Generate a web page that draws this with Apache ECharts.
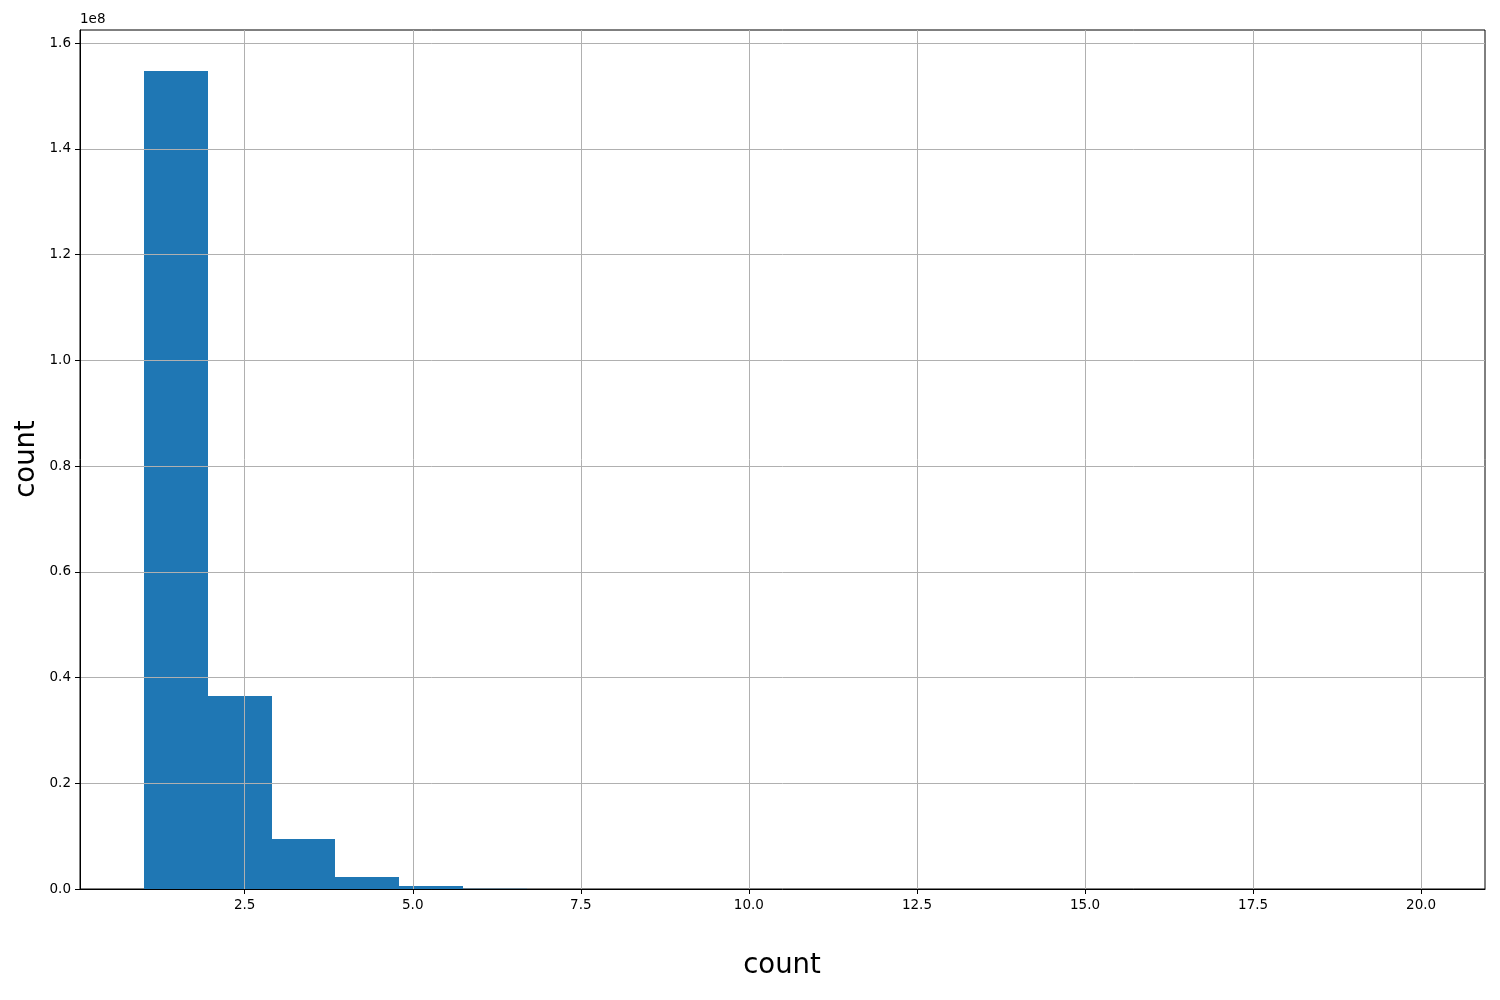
<!DOCTYPE html>
<html>
<head>
<meta charset="utf-8">
<script src="https://cdn.jsdelivr.net/npm/echarts@6/dist/echarts.min.js"></script>
<style>html,body{margin:0;padding:0;background:#fff;}#chart{width:1500px;height:1000px;}</style>
</head>
<body>
<div id="chart"></div>
<script>
// Histogram bins (left edge, right edge) and counts
const binStart = [1.00, 1.95, 2.90, 3.85, 4.80, 5.75, 6.70, 7.65, 8.60, 9.55, 10.50, 11.45, 12.40, 13.35, 14.30, 15.25, 16.20, 17.15, 18.10, 19.05];
const binEnd   = [1.95, 2.90, 3.85, 4.80, 5.75, 6.70, 7.65, 8.60, 9.55, 10.50, 11.45, 12.40, 13.35, 14.30, 15.25, 16.20, 17.15, 18.10, 19.05, 20.00];
const counts   = [154700000, 36500000, 9450000, 2270000, 570000, 60000, 15000, 4000, 1200, 400, 150, 60, 20, 8, 4, 2, 1, 1, 1, 1];
const xTicks = [2.5, 5.0, 7.5, 10.0, 12.5, 15.0, 17.5, 20.0];
const yTicks = [0, 0.2e8, 0.4e8, 0.6e8, 0.8e8, 1.0e8, 1.2e8, 1.4e8, 1.6e8];
const xTitle = 'count';
const yTitle = 'count';

const FONT = 'DejaVu Sans';
const chart = echarts.init(document.getElementById('chart'), null, {renderer: 'canvas'});
const data = binStart.map((s, i) => [s, binEnd[i], counts[i]]);

chart.setOption({
  animation: false,
  backgroundColor: '#fff',
  grid: {left: 80, right: 15, top: 30, bottom: 111, show: true, borderColor: '#000', borderWidth: 1, backgroundColor: 'transparent'},
  xAxis: {
    type: 'value', min: 0.05, max: 20.95, z: 5,
    axisLine: {onZero: false, lineStyle: {color: '#000', width: 1}},
    axisTick: {show: true, length: 5, customValues: xTicks, lineStyle: {color: '#000', width: 1}},
    axisLabel: {customValues: xTicks, color: '#000', fontFamily: FONT, fontSize: 13.5, margin: 9,
      formatter: v => v.toFixed(1)},
    splitLine: {show: false}
  },
  yAxis: {
    type: 'value', min: 0, max: 1.6246e8, z: 5,
    axisLine: {show: true, lineStyle: {color: '#000', width: 1}},
    axisTick: {show: true, length: 5, customValues: yTicks, lineStyle: {color: '#000', width: 1}},
    axisLabel: {customValues: yTicks, color: '#000', fontFamily: FONT, fontSize: 13.5, margin: 9,
      formatter: v => (v / 1e8).toFixed(1)},
    splitLine: {show: false}
  },
  graphic: [
    {type: 'text', left: 80, top: 12, style: {text: '1e8', font: '13.5px "DejaVu Sans"', fill: '#000'}},
    {type: 'text', x: 782, y: 966, style: {text: xTitle, font: '27.5px "DejaVu Sans"', fill: '#000', align: 'center', verticalAlign: 'middle'}},
    {type: 'text', x: 27, y: 459, rotation: Math.PI / 2, style: {text: yTitle, font: '27.5px "DejaVu Sans"', fill: '#000', align: 'center', verticalAlign: 'middle'}}
  ],
  series: [{
    type: 'custom',
    z: 2,
    data: data,
    encode: {x: [0, 1], y: 2},
    renderItem: function (params, api) {
      const p0 = api.coord([api.value(0), 0]);
      const p1 = api.coord([api.value(1), api.value(2)]);
      const x0 = Math.round(p0[0]), x1 = Math.round(p1[0]);
      return {
        type: 'rect',
        shape: {x: x0, y: p1[1], width: x1 - x0, height: p0[1] - p1[1]},
        style: {fill: '#1f77b4'}
      };
    },
    markLine: {
      silent: true, symbol: 'none', animation: false,
      label: {show: false},
      lineStyle: {color: '#b0b0b0', width: 1, type: 'solid'},
      data: xTicks.map(v => ({xAxis: v})).concat(yTicks.slice(1).map(v => ({yAxis: v})))
    }
  }]
});
</script>
</body>
</html>
